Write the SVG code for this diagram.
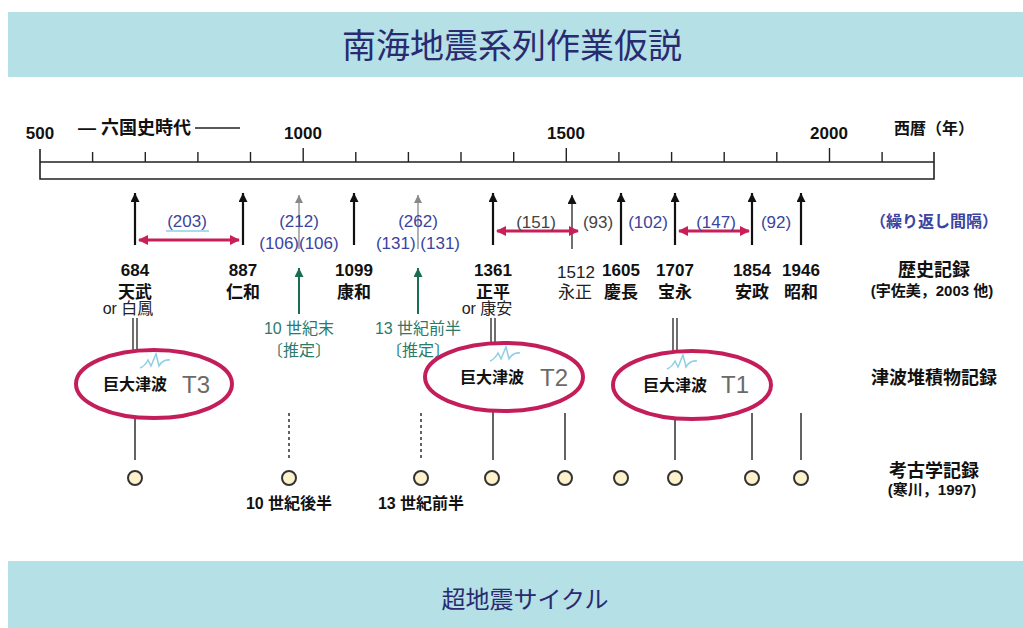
<svg xmlns="http://www.w3.org/2000/svg" width="1023" height="628" viewBox="0 0 1023 628">
<defs>
<style>
text{font-family:"Liberation Sans","Noto Sans CJK JP",sans-serif;text-anchor:middle}
.b{font-weight:bold;font-size:17px;fill:#111}
.n{font-size:16px;fill:#222}
.blue{font-size:17px;fill:#3b44a0}
.gray{font-size:17px;fill:#444}
.green{font-size:16px;fill:#2a7a6a}
.lbl{font-weight:bold;font-size:16px;fill:#111}
.ev{stroke:#111;stroke-width:2.2;fill:none}
.ln{stroke:#222;stroke-width:1.4;fill:none}
.dash{stroke:#222;stroke-width:1.4;stroke-dasharray:3 3;fill:none}
.pink{stroke:#c81e5a;stroke-width:3;fill:none}
.ell{stroke:#c41e5a;stroke-width:4;fill:#fff}
.circ{fill:#fdf2cc;stroke:#333;stroke-width:2}
.t{font-size:24px;fill:#6a6a6a;font-family:"Liberation Sans",sans-serif}
.sq{stroke:#8fcfe6;stroke-width:1.5;fill:none}
</style>
<marker id="ak" viewBox="0 0 10 10" refX="10" refY="5" markerWidth="12" markerHeight="9" markerUnits="userSpaceOnUse" orient="auto"><path d="M0,0 L10,5 L0,10 z" fill="#111"/></marker>
<marker id="ag" viewBox="0 0 10 10" refX="10" refY="5" markerWidth="10" markerHeight="8" markerUnits="userSpaceOnUse" orient="auto"><path d="M0,0 L10,5 L0,10 z" fill="#888"/></marker>
<marker id="agr" viewBox="0 0 10 10" refX="10" refY="5" markerWidth="12" markerHeight="9" markerUnits="userSpaceOnUse" orient="auto"><path d="M0,0 L10,5 L0,10 z" fill="#1a6e50"/></marker>
<marker id="ap" viewBox="0 0 10 10" refX="9" refY="5" markerWidth="11" markerHeight="10" markerUnits="userSpaceOnUse" orient="auto-start-reverse"><path d="M0,0 L10,5 L0,10 z" fill="#c81e5a"/></marker>
</defs>
<rect width="1023" height="628" fill="#fff"/>
<g id="title">
<rect x="8" y="12" width="1015" height="65" fill="#b4e0e6"/>
<text x="512" y="58" style="font-size:34px;fill:#2a2a70">南海地震系列作業仮説</text>
</g>
<g id="axis">
<path d="M40,149 V179 H934 V152 M40,162 H934" stroke="#222" stroke-width="1.6" fill="none"/>
<path d="M92.6,152V162 M145.3,152V162 M197.9,152V162 M250.5,152V162 M303.2,148V162 M355.8,152V162 M408.4,152V162 M461,152V162 M513.7,152V162 M566.3,148V162 M618.9,152V162 M671.6,152V162 M724.2,152V162 M776.8,152V162 M829.5,148V162 M882.1,152V162" stroke="#222" stroke-width="1.4"/>
<text x="40" y="139" class="b">500</text>
<text x="303" y="139" class="b">1000</text>
<text x="566" y="139" class="b">1500</text>
<text x="829" y="139" class="b">2000</text>
<text x="78" y="134" class="lbl" style="text-anchor:start;font-size:18px">— 六国史時代</text>
<line x1="195" y1="128" x2="240" y2="128" stroke="#222" stroke-width="1.4"/>
<text x="934" y="134" class="lbl">西暦（年）</text>
</g>
<g id="connectors">
<line x1="135" y1="245" x2="135" y2="193" class="ev" marker-end="url(#ak)"/>
<line x1="243" y1="245" x2="243" y2="193" class="ev" marker-end="url(#ak)"/>
<line x1="354" y1="245" x2="354" y2="193" class="ev" marker-end="url(#ak)"/>
<line x1="493" y1="245" x2="493" y2="193" class="ev" marker-end="url(#ak)"/>
<line x1="621" y1="245" x2="621" y2="193" class="ev" marker-end="url(#ak)"/>
<line x1="675" y1="245" x2="675" y2="193" class="ev" marker-end="url(#ak)"/>
<line x1="752" y1="245" x2="752" y2="193" class="ev" marker-end="url(#ak)"/>
<line x1="801" y1="245" x2="801" y2="193" class="ev" marker-end="url(#ak)"/>
<line x1="572" y1="249" x2="572" y2="195" stroke="#222" stroke-width="1.3" marker-end="url(#ak)"/>
<line x1="299" y1="249" x2="299" y2="195" stroke="#888" stroke-width="1.3" marker-end="url(#ag)"/>
<line x1="418" y1="249" x2="418" y2="195" stroke="#888" stroke-width="1.3" marker-end="url(#ag)"/>
<line x1="139" y1="240" x2="239" y2="240" class="pink" marker-start="url(#ap)" marker-end="url(#ap)"/>
<line x1="497" y1="231" x2="578" y2="231" class="pink" marker-start="url(#ap)" marker-end="url(#ap)"/>
<line x1="679" y1="231" x2="749" y2="231" class="pink" marker-start="url(#ap)" marker-end="url(#ap)"/>
<line x1="299" y1="314" x2="299" y2="268" stroke="#1a6e50" stroke-width="2" marker-end="url(#agr)"/>
<line x1="418" y1="314" x2="418" y2="268" stroke="#1a6e50" stroke-width="2" marker-end="url(#agr)"/>
<path d="M133,318V352 M137,318V352 M491,318V345 M495,318V345 M673,318V352 M677,318V352" stroke="#222" stroke-width="1.3"/>
<path d="M135,418V460 M493,411V460 M565,413V460 M675,419V460 M752,413V460 M801,413V460" class="ln"/>
<path d="M289,413V460 M421,413V460" class="dash"/>
<line x1="166" y1="231" x2="209" y2="231" stroke="#8fcfe6" stroke-width="1.5"/>
</g>
<g id="intervals">
<text x="187" y="227" class="blue">(203)</text>
<text x="299" y="227" class="blue">(212)</text>
<text x="299" y="249" class="blue">(106)(106)</text>
<text x="418" y="227" class="blue">(262)</text>
<text x="418" y="249" class="blue">(131) (131)</text>
<text x="536" y="228" class="gray">(151)</text>
<text x="598" y="228" class="gray">(93)</text>
<text x="648" y="228" class="blue">(102)</text>
<text x="716" y="228" class="blue">(147)</text>
<text x="776" y="228" class="blue">(92)</text>
<text x="934" y="227" class="blue" style="font-weight:bold;font-size:16px">（繰り返し間隔）</text>
</g>
<g id="history">
<text x="135" y="276" class="b">684</text><text x="135" y="298" class="b">天武</text>
<text x="128" y="314" class="n">or 白鳳</text>
<text x="243" y="276" class="b">887</text><text x="243" y="298" class="b">仁和</text>
<text x="354" y="276" class="b">1099</text><text x="354" y="298" class="b">康和</text>
<text x="493" y="276" class="b">1361</text><text x="493" y="298" class="b">正平</text>
<text x="487" y="314" class="n">or 康安</text>
<text x="576" y="278" class="n" style="font-size:17px">1512</text><text x="575" y="298" class="n" style="font-size:17px">永正</text>
<text x="621" y="276" class="b">1605</text><text x="621" y="298" class="b">慶長</text>
<text x="675" y="276" class="b">1707</text><text x="675" y="298" class="b">宝永</text>
<text x="752" y="276" class="b">1854</text><text x="752" y="298" class="b">安政</text>
<text x="801" y="276" class="b">1946</text><text x="801" y="298" class="b">昭和</text>
<text x="934" y="276" class="b" style="font-size:18px">歴史記録</text>
<text x="932" y="296" class="lbl" style="font-size:15px">(宇佐美，2003 他)</text>
<text x="299" y="334" class="green">10 世紀末</text>
<text x="299" y="356" class="green">〔推定〕</text>
<text x="418" y="334" class="green">13 世紀前半</text>
<text x="418" y="356" class="green">〔推定〕</text>
</g>
<g id="T3">
<ellipse cx="154" cy="384" rx="78" ry="34" class="ell"/>
<path d="M140,368 q5,-2 8,-8 l3,6 l5,-12 l3,12 q4,-7 11,-6" class="sq"/>
<text x="135" y="390" class="b" style="font-size:16px">巨大津波</text>
<text x="196" y="393" class="t">T3</text>
</g>
<g id="T2">
<ellipse cx="504" cy="377" rx="79" ry="34" class="ell"/>
<path d="M490,361 q5,-2 8,-8 l3,6 l5,-12 l3,12 q4,-7 11,-6" class="sq"/>
<text x="492" y="383" class="b" style="font-size:16px">巨大津波</text>
<text x="554" y="386" class="t">T2</text>
</g>
<g id="T1">
<ellipse cx="692" cy="385" rx="79" ry="34" class="ell"/>
<path d="M667,369 q5,-2 8,-8 l3,6 l5,-12 l3,12 q4,-7 11,-6" class="sq"/>
<text x="675" y="391" class="b" style="font-size:16px">巨大津波</text>
<text x="735" y="393" class="t">T1</text>
</g>
<g id="archaeology">
<circle cx="135" cy="478" r="7" class="circ"/>
<circle cx="289" cy="478" r="7" class="circ"/>
<circle cx="421" cy="478" r="7" class="circ"/>
<circle cx="492" cy="478" r="7" class="circ"/>
<circle cx="565" cy="478" r="7" class="circ"/>
<circle cx="621" cy="478" r="7" class="circ"/>
<circle cx="675" cy="478" r="7" class="circ"/>
<circle cx="752" cy="478" r="7" class="circ"/>
<circle cx="801" cy="478" r="7" class="circ"/>
<text x="289" y="509" class="lbl">10 世紀後半</text>
<text x="421" y="509" class="lbl">13 世紀前半</text>
</g>
<g id="rowlabels">
<text x="934" y="384" class="b" style="font-size:18px">津波堆積物記録</text>
<text x="934" y="477" class="b" style="font-size:18px">考古学記録</text>
<text x="932" y="495" class="lbl" style="font-size:15px">(寒川，1997)</text>
</g>
<g id="footer">
<rect x="8" y="561" width="1015" height="67" fill="#b4e0e6"/>
<text x="525" y="608" style="font-size:24px;fill:#2a2a70">超地震サイクル</text>
</g>
</svg>
